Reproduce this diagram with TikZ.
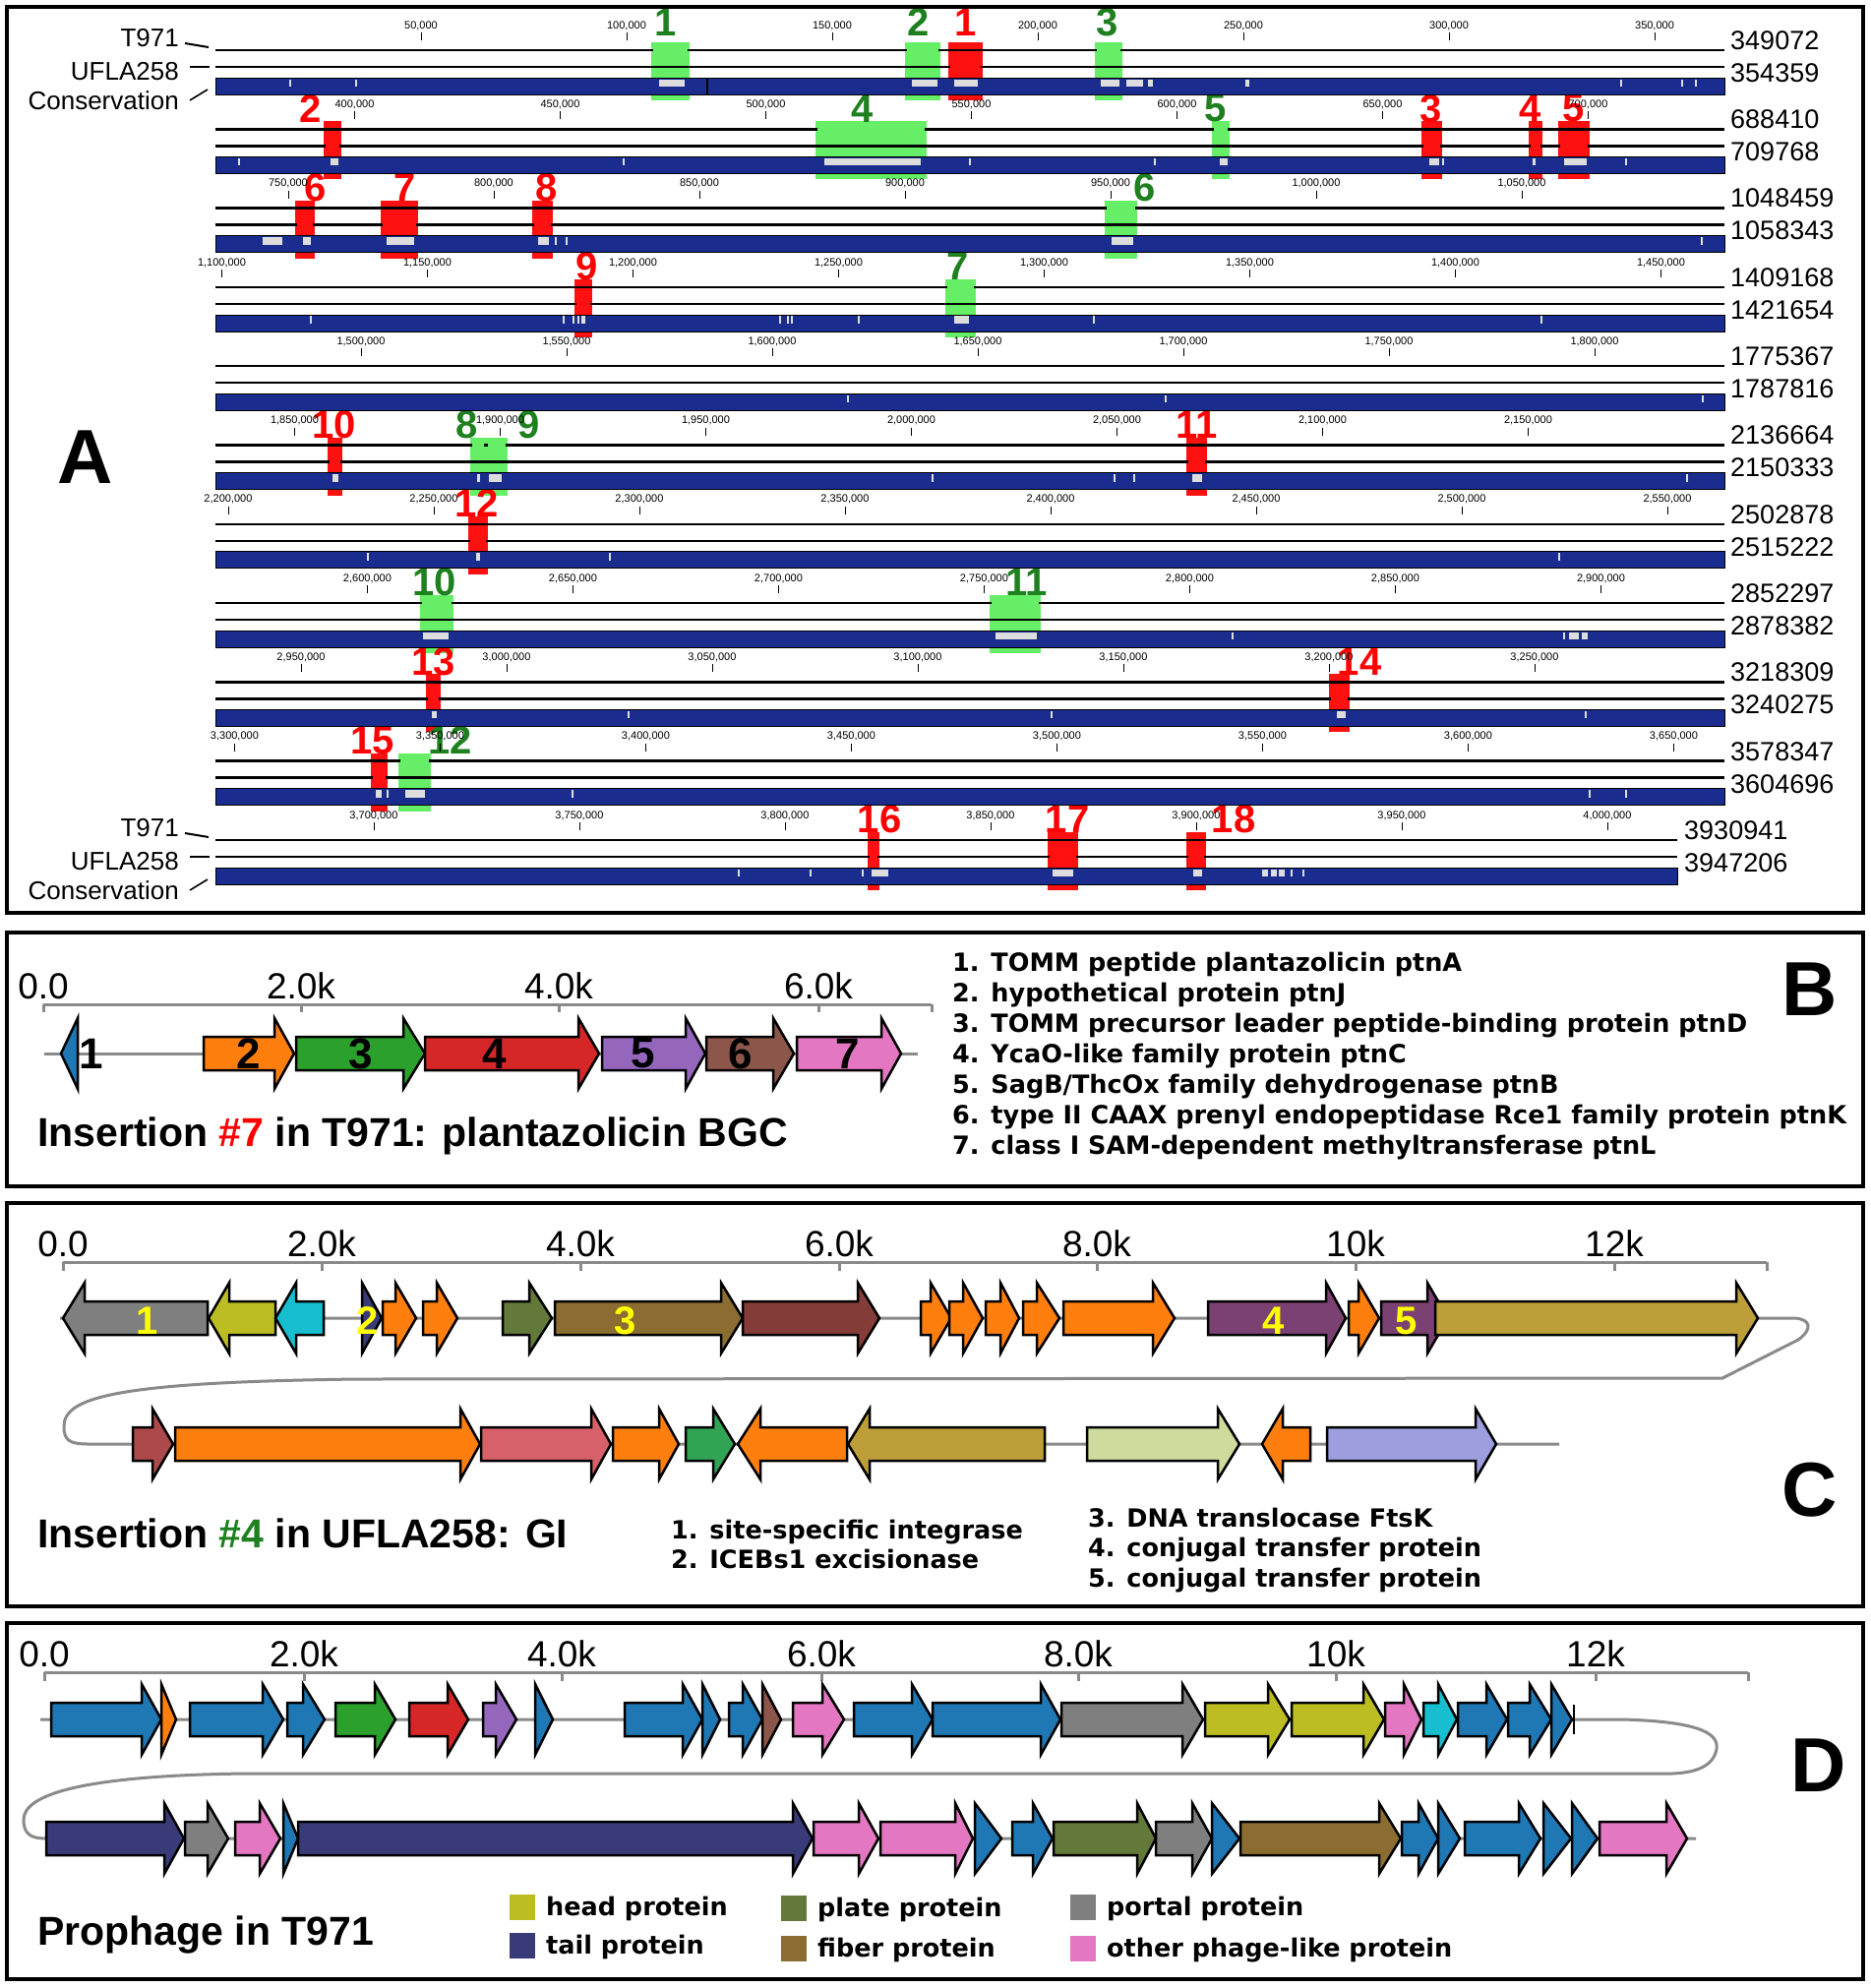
\documentclass[tikz,border=0pt]{standalone}
\usepackage{fontspec}
\setmainfont{Liberation Sans}
\newfontfamily\descfont{DejaVu Sans}
\usetikzlibrary{positioning}

% panel A colours
\definecolor{consblue}{HTML}{1A2D8F}
\definecolor{gapgray}{HTML}{DDDDDD}
\definecolor{boxg}{HTML}{66EE66}
\definecolor{boxr}{HTML}{FF1111}
\definecolor{txtg}{HTML}{1E801E}
\definecolor{txtr}{HTML}{FF0000}
\definecolor{axisgray}{HTML}{8A8A8A}
\definecolor{labyellow}{HTML}{FFFF00}
% gene colours
\definecolor{gblue}{HTML}{1F77B4}
\definecolor{gorange}{HTML}{FF7F0E}
\definecolor{ggreen}{HTML}{2CA02C}
\definecolor{gred}{HTML}{D62728}
\definecolor{gpurple}{HTML}{9467BD}
\definecolor{gbrown}{HTML}{8C564B}
\definecolor{gpink}{HTML}{E377C2}
\definecolor{ggray}{HTML}{7F7F7F}
\definecolor{golive}{HTML}{BCBD22}
\definecolor{gcyan}{HTML}{17BECF}
\definecolor{gnavy}{HTML}{393B79}
\definecolor{gmoss}{HTML}{637939}
\definecolor{gochre}{HTML}{8C6D31}
\definecolor{gmaroon}{HTML}{843C39}
\definecolor{gplum}{HTML}{7B4173}
\definecolor{ggold}{HTML}{BD9E39}
\definecolor{gbrick}{HTML}{AD494A}
\definecolor{grose}{HTML}{D6616B}
\definecolor{gemerald}{HTML}{31A354}
\definecolor{gsage}{HTML}{CEDB9C}
\definecolor{glav}{HTML}{9C9EDE}

\newcommand{\pxfont}[1]{\fontsize{#1}{#1}\selectfont}
% tail, head base, tip, mid y, colour
\newcommand{\gene}[5]{%
  \filldraw[genebody,fill=#5] (#1,#4-17) -- (#2,#4-17) -- (#2,#4-36) -- (#3,#4)
    -- (#2,#4+36) -- (#2,#4+17) -- (#1,#4+17) -- cycle;}

\tikzset{
  panel/.style={draw=black,line width=3.5pt},
  genome/.style={draw=black,line width=2.5pt},
  consbar/.style={fill=consblue,draw=black,line width=0.8pt},
  tickmark/.style={draw=black,line width=0.8pt},
  genebody/.style={draw=black,line width=2.5pt,line join=miter},
  backbone/.style={draw=axisgray,line width=3pt},
  scaleaxis/.style={draw=axisgray,line width=3pt},
  ticklab/.style={font=\pxfont{11},inner sep=0pt},
  straintag/.style={font=\pxfont{26},inner sep=0pt,anchor=east},
  seqlen/.style={font=\pxfont{27},inner sep=0pt,anchor=west},
  instag/.style={font=\bfseries\pxfont{40},inner sep=0pt},
  panelletter/.style={font=\bfseries\pxfont{78},inner sep=0pt},
  scalelab/.style={font=\pxfont{37},inner sep=0pt,anchor=base},
  genetag/.style={font=\bfseries\pxfont{44},inner sep=0pt},
  paneltitle/.style={font=\bfseries\pxfont{41},inner sep=0pt,anchor=base west},
  desc/.style={font=\descfont\bfseries\pxfont{25.5},inner sep=0pt,anchor=base west},
}

% insertions: row/x1/x2/kind/gap line/label x/label
\def\inslist{0/662/701/g/51/677/1, 0/920/956/g/51/934/2, 0/964/999/r/68/982/1,
  0/1113/1141/g/51/1126/3, 1/329/347/r/68/316/2, 1/829/942/g/51/877/4,
  1/1232/1250/g/51/1236/5, 1/1445/1466/r/68/1455/3, 1/1554/1568/r/68/1556/4,
  1/1584/1616/r/68/1600/5, 2/300/320/r/68/321/6, 2/387/425/r/68/412/7,
  2/541/562/r/68/556/8, 2/1123/1156/g/51/1164/6, 3/584/602/r/68/597/9,
  3/961/992/g/51/974/7, 5/333/348/r/68/340/10, 5/478/494/g/51/475/8,
  5/494/516/g/51/538/9, 5/1206/1227/r/68/1217/11, 6/476/496/r/68/485/12,
  7/427/461/g/51/442/10, 7/1006/1058/g/51/1044/11, 8/433/448/r/68/441/13,
  8/1351/1372/r/68/1382/14, 9/377/394/r/68/379/15, 9/405/438/g/51/458/12,
  10/882/894/r/68/894/16, 10/1065/1096/r/68/1085/17, 10/1206/1226/r/68/1254/18}
% unaligned blocks in the conservation bar: row/x1/x2
\def\gaplist{0/294/296, 0/361/363, 0/670/696, 0/927/953, 0/970/994, 0/1119/1138,
  0/1145/1162, 0/1167/1172, 0/1266/1270, 0/1647/1649, 0/1709/1711, 0/1723/1725,
  1/242/244, 1/336/344, 1/633/635, 1/838/936, 1/985/987, 1/1173/1175, 1/1240/1248,
  1/1453/1463, 1/1466/1468, 1/1558/1561, 1/1590/1613, 1/1652/1654,
  2/267/287, 2/308/316, 2/393/421, 2/547/558, 2/564/566, 2/575/577, 2/1130/1152,
  2/1729/1731, 3/315/317, 3/572/574, 3/582/584, 3/587/589, 3/591/595, 3/792/794,
  3/800/802, 3/804/806, 3/872/874, 3/970/985, 3/1111/1113, 3/1566/1568,
  4/861/863, 4/1184/1186, 4/1730/1732, 5/338/344, 5/485/488, 5/497/510, 5/947/949,
  5/1132/1134, 5/1152/1154, 5/1212/1222, 5/1714/1716, 6/373/375, 6/484/488,
  6/619/621, 6/1584/1586, 7/430/456, 7/1012/1054, 7/1252/1254, 7/1589/1591,
  7/1595/1605, 7/1608/1614, 8/439/444, 8/638/640, 8/1068/1070, 8/1359/1368,
  8/1611/1613, 9/382/388, 9/393/395, 9/412/432, 9/581/583, 9/1615/1617,
  9/1652/1654, 10/750/752, 10/823/825, 10/876/878, 10/886/903, 10/1070/1091,
  10/1213/1222, 10/1283/1289, 10/1292/1298, 10/1300/1306, 10/1312/1314,
  10/1324/1326}

\begin{document}
\begin{tikzpicture}[x=1pt,y=-1pt]
\useasboundingbox (0,0) rectangle (1902,2021);
\fill[white] (0,0) rectangle (1902,2021);

%%% A: whole-genome alignment
\foreach \k/\xa/\xb/\kind/\gl/\lx/\lab in \inslist {
  \pgfmathsetmacro\Y{80.3*\k}
  \fill[fill=box\kind] (\xa,\Y+43) rectangle (\xb,\Y+102);
}
\foreach \k in {0,...,10} {
  \pgfmathsetmacro\Y{80.3*\k}
  \pgfmathsetmacro\xe{ifthenelse(\k==10,1705,1753)}
  \draw[genome] (219,\Y+51) -- (\xe,\Y+51);
  \draw[genome] (219,\Y+68) -- (\xe,\Y+68);
}
\foreach \k/\xa/\xb/\kind/\gl/\lx/\lab in \inslist {
  \pgfmathsetmacro\Y{80.3*\k}
  \fill[fill=box\kind] (\xa+2,\Y+\gl-2.5) rectangle (\xb-2,\Y+\gl+2.5);
  \pgfmathsetmacro\ly{\Y+ifthenelse(\k==0,23,30)}
  \node[instag,text=txt\kind] (ins\k-\xa) at (\lx,\ly) {\lab};
}
\foreach \k in {0,...,10} {
  \pgfmathsetmacro\Y{80.3*\k}
  \pgfmathsetmacro\xe{ifthenelse(\k==10,1705,1753)}
  \draw[consbar] (219,\Y+79) rectangle (\xe,\Y+96);
  % scale
  \pgfmathsetmacro\rowstart{366.15*\k}
  \pgfmathtruncatemacro\tfirst{max(1,ceil(\rowstart/50))}
  \pgfmathtruncatemacro\tlast{floor((\rowstart+366)/50)}
  \foreach \m in {\tfirst,...,\tlast} {
    \pgfmathtruncatemacro\kb{\m*50}
    \pgfmathsetmacro\tx{219+(\kb-\rowstart)*4.18}
    \draw[tickmark] (\tx,\Y+33) -- (\tx,\Y+41);
    \node[ticklab] (tk\k-\m) at (\tx,\Y+26)
      {\pgfmathprintnumber[assume math mode=true,1000 sep={,}]{\kb},000};
  }
}
\foreach \k/\xa/\xb in \gaplist {
  \pgfmathsetmacro\Y{80.3*\k}
  \fill[gapgray] (\xa,\Y+80.5) rectangle (\xb,\Y+88);
}
\draw[line width=2pt] (719,79) -- (719,96);

% sequence lengths
\foreach \k/\na/\nb in {0/349072/354359, 1/688410/709768, 2/1048459/1058343,
    3/1409168/1421654, 4/1775367/1787816, 5/2136664/2150333, 6/2502878/2515222,
    7/2852297/2878382, 8/3218309/3240275, 9/3578347/3604696, 10/3930941/3947206} {
  \pgfmathsetmacro\Y{80.3*\k}
  \pgfmathsetmacro\nx{ifthenelse(\k==10,1712,1759)}
  \node[seqlen] (lenA\k) at (\nx,\Y+41) {\na};
  \node[seqlen] (lenB\k) at (\nx,\Y+74) {\nb};
}
% track names
\foreach \k in {0,10} {
  \pgfmathsetmacro\Y{80.3*\k}
  \node[straintag] (trkT\k) at (182,\Y+38.5) {T971};
  \node[straintag] (trkU\k) at (182,\Y+72.5) {UFLA258};
  \node[straintag] (trkC\k) at (182,\Y+102.5) {Conservation};
  \draw[line width=2pt] (188,\Y+44) -- (212,\Y+48);
  \draw[line width=2pt] (193,\Y+68) -- (213,\Y+68);
  \draw[line width=1.6pt] (193,\Y+102) -- (211,\Y+91);
}
\node[panelletter] (letA) at (87,465) {A};
\draw[panel] (7,7) rectangle (1894,928);

%%% B: plantazolicin cluster
\draw[scaleaxis] (44,1021) -- (947,1021);
\foreach \tx/\tl in {44/0.0, 306/2.0k, 568/4.0k, 832/6.0k} {
  \draw[scaleaxis] (\tx,1021) -- (\tx,1029);
  \node[scalelab] (sb\tx) at (\tx,1015) {\tl};
}
\draw[scaleaxis] (947,1021) -- (947,1029);
\draw[backbone] (45,1071) -- (933,1071);
\foreach \t/\b/\p/\col in {79/79/62/gblue, 207/279/299/gorange, 301/410/432/ggreen,
    432/588/609/gred, 612/697/717/gpurple, 718/786/807/gbrown, 810/896/916/gpink}
  \gene{\t}{\b}{\p}{1071}{\col};
\foreach \lx/\lab in {93/1, 253/2, 367/3, 503/4, 654/5, 753/6, 862/7}
  \node[genetag] (gb\lab) at (\lx,1071) {\lab};
\node[paneltitle] (titB) at (38,1165) {Insertion \textcolor{txtr}{\#7} in T971: plantazolicin BGC};
\foreach \i/\txt in {0/{1. TOMM peptide plantazolicin ptnA}, 1/{2. hypothetical protein ptnJ},
    2/{3. TOMM precursor leader peptide-binding protein ptnD},
    3/{4. YcaO-like family protein ptnC}, 4/{5. SagB/ThcOx family dehydrogenase ptnB},
    5/{6. type II CAAX prenyl endopeptidase Rce1 family protein ptnK},
    6/{7. class I SAM-dependent methyltransferase ptnL}}
  \node[desc] (db\i) at (968,987+31*\i) {\txt};
\node[panelletter] (letB) at (1840,1006) {B};
\draw[panel] (7,948) rectangle (1894,1206);

%%% C: genomic island
\draw[scaleaxis] (64,1283) -- (1796,1283);
\foreach \tx/\tl in {64/0.0, 327/2.0k, 590/4.0k, 853/6.0k, 1115/8.0k, 1378/10k, 1641/12k} {
  \draw[scaleaxis] (\tx,1283) -- (\tx,1292);
  \node[scalelab] (sc\tx) at (\tx,1277) {\tl};
}
\draw[scaleaxis] (1796,1283) -- (1796,1292);
\draw[backbone] (61,1340) -- (1824,1340) .. controls (1842,1341) and (1842,1352) .. (1828,1362)
  -- (1751,1401) -- (364,1402) .. controls (120,1405) and (65,1420) .. (65,1450)
  .. controls (65,1464) and (70,1468) .. (90,1468) -- (1585,1468);
\foreach \t/\b/\p/\col in {211/86/64/ggray, 280/233/212/golive, 329/301/280/gcyan,
    368/368/388/gnavy, 389/402/423/gorange, 430/444/465/gorange, 511/538/561/gmoss,
    564/733/755/gochre, 755/872/894/gmaroon, 936/946/967/gorange, 965/979/999/gorange,
    1002/1017/1036/gorange, 1040/1054/1077/gorange, 1081/1172/1194/gorange,
    1228/1348/1368/gplum, 1371/1381/1402/gorange, 1404/1451/1472/gplum,
    1459/1765/1787/ggold}
  \gene{\t}{\b}{\p}{1340}{\col};
\foreach \t/\b/\p/\col in {135/155/176/gbrick, 178/468/488/gorange, 489/601/621/grose,
    623/670/690/gorange, 697/725/747/gemerald, 861/773/750/gorange, 1062/884/862/ggold,
    1105/1238/1260/gsage, 1332/1304/1283/gorange, 1349/1500/1521/glav}
  \gene{\t}{\b}{\p}{1468}{\col};
\foreach \lx/\lab in {150/1, 374/2, 636/3, 1295/4, 1430/5}
  \node[genetag,text=labyellow,font=\bfseries\pxfont{40}] (gc\lab) at (\lx,1343) {\lab};
\node[paneltitle] (titC) at (38,1573) {Insertion \textcolor{txtg}{\#4} in UFLA258: GI};
\node[desc] (dc1) at (682,1564) {1. site-specific integrase};
\node[desc] (dc2) at (682,1594) {2. ICEBs1 excisionase};
\node[desc] (dc3) at (1106,1552) {3. DNA translocase FtsK};
\node[desc] (dc4) at (1106,1582) {4. conjugal transfer protein};
\node[desc] (dc5) at (1106,1613) {5. conjugal transfer protein};
\node[panelletter] (letC) at (1840,1515) {C};
\draw[panel] (7,1223) rectangle (1894,1633);

%%% D: prophage
\draw[scaleaxis] (45,1700) -- (1777,1700);
\foreach \tx/\tl in {45/0.0, 309/2.0k, 571/4.0k, 835/6.0k, 1096/8.0k, 1358/10k, 1622/12k} {
  \draw[scaleaxis] (\tx,1700) -- (\tx,1709);
  \node[scalelab] (sd\tx) at (\tx,1694) {\tl};
}
\draw[scaleaxis] (1777,1700) -- (1777,1709);
\draw[backbone] (41,1748) -- (1650,1748) .. controls (1720,1750) and (1748,1760) .. (1745,1778)
  .. controls (1742,1795) and (1725,1802) .. (1700,1803) -- (250,1803)
  .. controls (80,1805) and (24,1825) .. (24,1850) .. controls (24,1865) and (32,1869) .. (47,1869)
  -- (1724,1869);
\foreach \t/\b/\p/\col in {52/144/164/gblue, 164/164/179/gorange, 193/267/288/gblue,
    292/308/330/gblue, 341/381/402/ggreen, 416/455/476/gred, 491/504/525/gpurple,
    544/544/562/gblue, 635/694/714/gblue, 714/714/732/gblue, 741/755/775/gblue,
    775/775/794/gbrown, 806/836/858/gpink, 868/927/948/gblue, 948/1058/1078/gblue,
    1079/1202/1223/ggray, 1225/1289/1311/golive, 1313/1386/1407/golive,
    1408/1427/1445/gpink, 1447/1462/1481/gcyan, 1482/1511/1532/gblue,
    1533/1555/1577/gblue, 1577/1577/1598/gblue}
  \gene{\t}{\b}{\p}{1748}{\col};
\draw[line width=2pt] (1600,1733) -- (1600,1763);
\foreach \t/\b/\p/\col in {47/167/187/gnavy, 188/211/232/ggray, 239/264/285/gpink,
    288/288/303/gblue, 303/806/826/gnavy, 827/873/893/gpink, 895/971/989/gpink,
    991/991/1018/gblue, 1029/1050/1070/gblue, 1071/1156/1175/gmoss, 1175/1212/1232/ggray,
    1232/1232/1260/gblue, 1261/1402/1424/gochre, 1425/1442/1462/gblue,
    1462/1462/1484/gblue, 1489/1544/1566/gblue, 1569/1569/1597/gblue,
    1598/1598/1624/gblue, 1626/1694/1715/gpink}
  \gene{\t}{\b}{\p}{1869}{\col};
\node[paneltitle] (titD) at (38,1977) {Prophage in T971};
% legend
\foreach \sx/\sy/\col/\txt in {518/1926/golive/head protein, 518/1965/gnavy/tail protein,
    794/1927/gmoss/plate protein, 794/1968/gochre/fiber protein,
    1088/1926/ggray/portal protein, 1088/1968/gpink/other phage-like protein} {
  \fill[\col] (\sx,\sy) rectangle (\sx+26,\sy+26);
  \node[desc] (lg\sx-\sy) at (\sx+37,\sy+21) {\txt};
}
\node[panelletter] (letD) at (1849,1795) {D};
\draw[panel] (7,1650) rectangle (1894,2012);
\end{tikzpicture}
\end{document}
